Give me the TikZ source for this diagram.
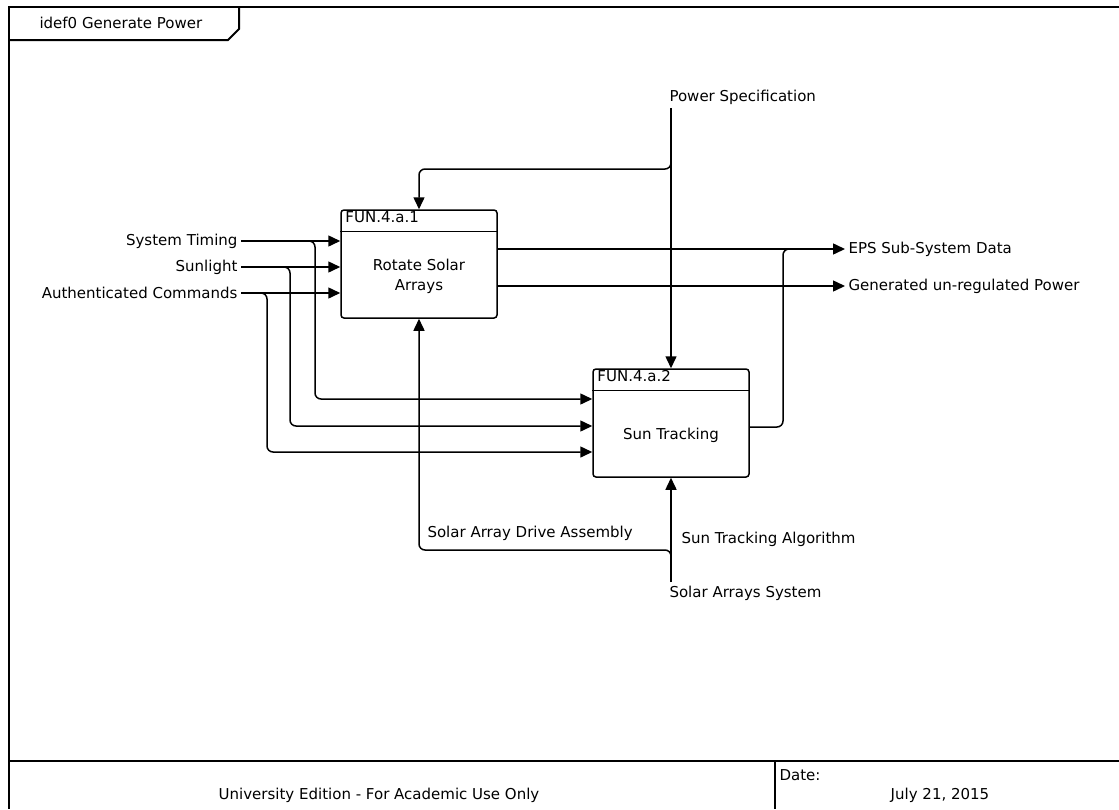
\documentclass[tikz,border=0pt]{standalone}
\usepackage{fontspec}
\setmainfont{DejaVu Sans}
\usepackage{tikz}
\usetikzlibrary{
    arrows.meta,
    positioning,
    calc
}

\begin{document}
\begin{tikzpicture}[
    x=1pt, y=-1pt,
    font=\fontsize{15}{20}\selectfont,
    frame/.style={
        line width=2.5pt
    },
    activity/.style={
        rectangle,
        draw,
        rounded corners=3pt,
        line width=1.5pt,
        minimum width=156pt,
        minimum height=108pt
    },
    line/.style={
        line width=1.5pt,
        rounded corners=6pt
    },
    flow/.style={
        line,
        -{Triangle[length=12pt,width=11pt]}
    }
]
\useasboundingbox (0,0) rectangle (1119,809);

% Marco
\draw[frame] (1119,7) -- (9,7) -- (9,809);
\draw[frame] (9,761) -- (1119,761);
\draw[frame] (775,761) -- (775,809);
\draw[line width=2pt] (9,40) -- (228,40) -- (239,29) -- (239,7);
\node[anchor=west] (title) at (36,23) {idef0 Generate Power};

% Actividades
\node[activity] (rsa) at (419,264) {};
\node[activity] (sut) at (671,423) {};
\draw[line width=1.5pt] ([yshift=-22pt]rsa.north west) -- ([yshift=-22pt]rsa.north east);
\draw[line width=1.5pt] ([yshift=-22pt]sut.north west) -- ([yshift=-22pt]sut.north east);
\node[anchor=north west, inner xsep=5pt, inner ysep=2pt] (rsaid) at (rsa.north west) {FUN.4.a.1};
\node[anchor=north west, inner xsep=5pt, inner ysep=2pt] (sutid) at (sut.north west) {FUN.4.a.2};
\node[align=center] (rsatxt) at ($(rsa.center)+(0,12)$) {Rotate Solar\\Arrays};
\node (suttxt) at ($(sut.center)+(0,12)$) {Sun Tracking};

% Entradas
\node[anchor=east] (st) at (241,241) {System Timing};
\node[anchor=east] (sl) at (241,267) {Sunlight};
\node[anchor=east] (ac) at (241,293) {Authenticated Commands};
\draw[flow] (st.east) -- (rsa.west |- st.east);
\draw[flow] (sl.east) -- (rsa.west |- sl.east);
\draw[flow] (ac.east) -- (rsa.west |- ac.east);
\draw[flow] ([xshift=64pt]st.east) -- ++(10,0) |- ([yshift=24pt]sut.west);
\draw[flow] ([xshift=39pt]sl.east) -- ++(10,0) |- ([yshift=-3pt]sut.west);
\draw[flow] ([xshift=16pt]ac.east) -- ++(10,0) |- ([yshift=-29pt]sut.west);

% Salidas
\node[anchor=west] (eps) at (845,249) {EPS Sub-System Data};
\node[anchor=west] (gup) at (845,286) {Generated un-regulated Power};
\draw[flow] (rsa.east |- eps.west) -- (eps.west);
\draw[flow] (rsa.east |- gup.west) -- (gup.west);
\draw[line] ([yshift=-4pt]sut.east) -| ([xshift=-62pt]eps.west) -- ([xshift=-52pt]eps.west);

% Controles
\node[anchor=west] (ps) at (666,97) {Power Specification};
\coordinate (psfork) at (671,160);
\draw[flow] (ps.south -| sut.north) -- (sut.north);
\draw[flow] (psfork) -- ++(0,9) -| (rsa.north);

% Mecanismos
\node[anchor=west] (sas) at (666,593) {Solar Arrays System};
\node[anchor=west] (sada) at (424,533) {Solar Array Drive Assembly};
\node[anchor=west] (sta) at (678,539) {Sun Tracking Algorithm};
\coordinate (sasfork) at (671,560);
\draw[flow] (sas.north -| sut.south) -- (sut.south);
\draw[flow] (sasfork) -- ++(0,-10) -| (rsa.south);

% Pie
\node (edition) at (379,795) {University Edition - For Academic Use Only};
\node[anchor=west] (datelbl) at (776,775) {Date:};
\node (datetxt) at (940,795) {July 21, 2015};

\end{tikzpicture}
\end{document}
